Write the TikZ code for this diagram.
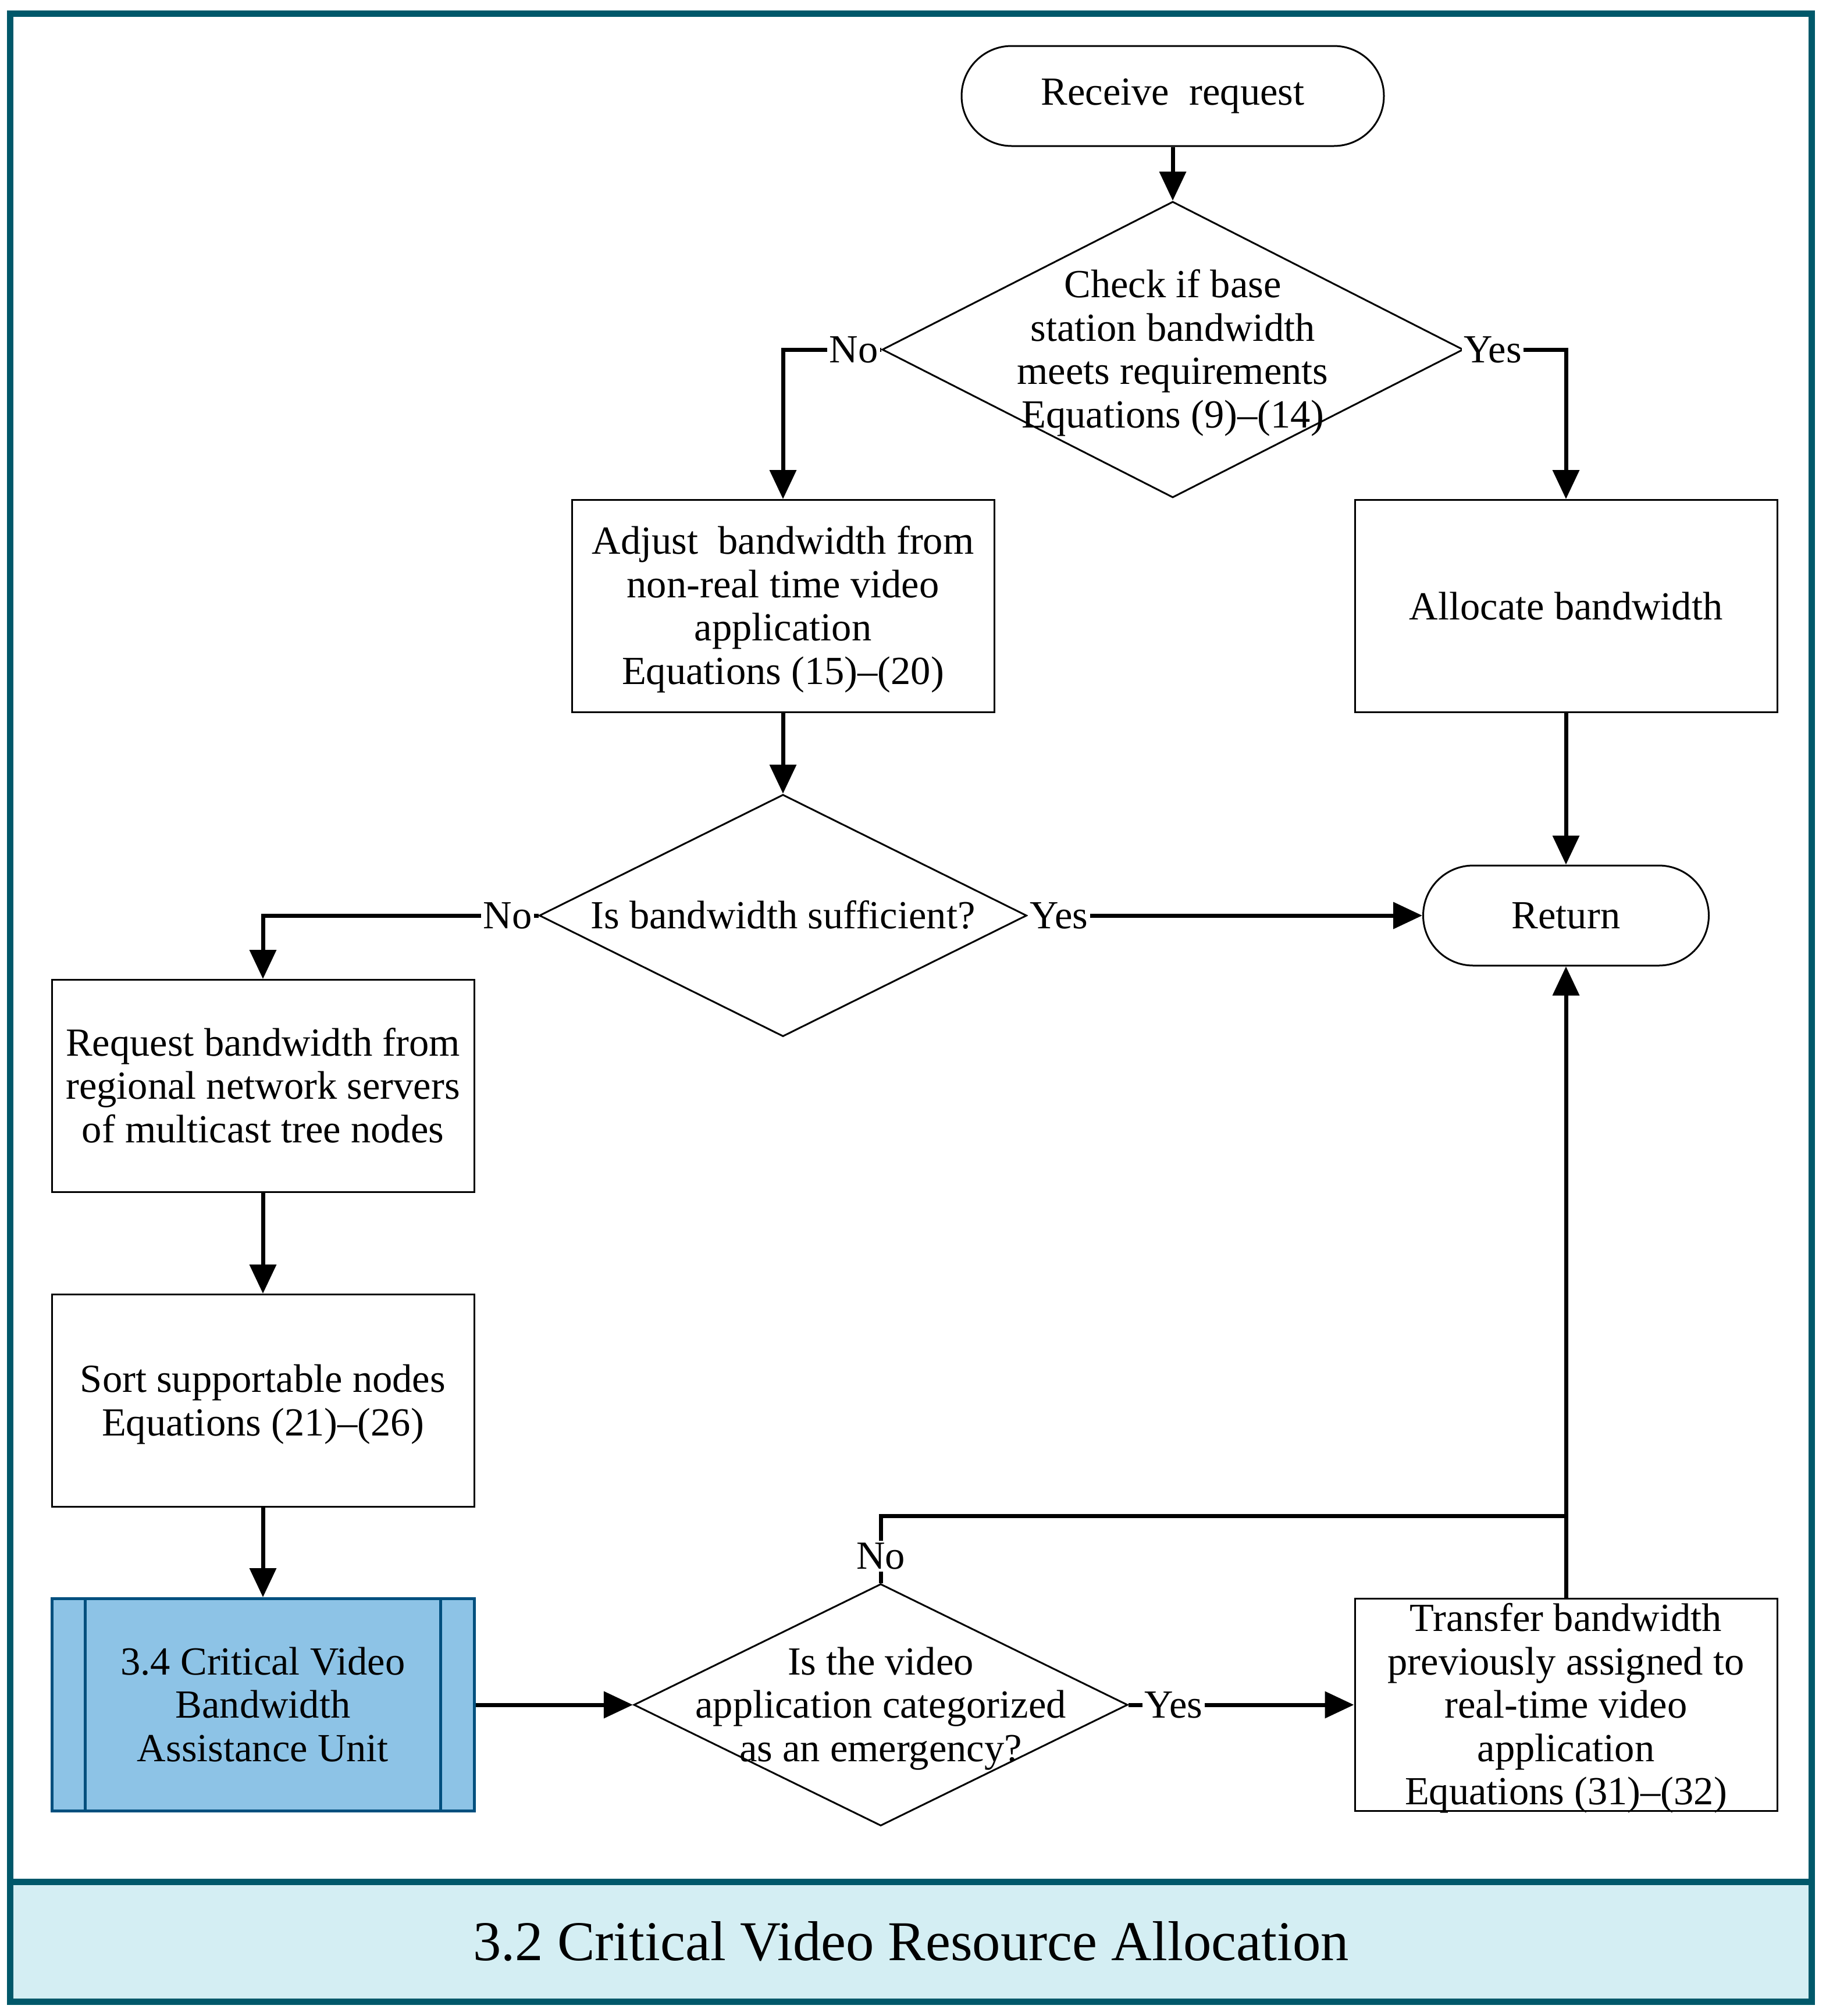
\documentclass[tikz,border=0pt]{standalone}
\usepackage{fontspec}
\setmainfont{Liberation Serif}
\usepackage{xcolor}
\definecolor{frameTeal}{HTML}{00586A}
\definecolor{bandCyan}{HTML}{D4EEF3}
\definecolor{unitBlue}{HTML}{8DC3E6}
\definecolor{unitNavy}{HTML}{004F7E}
\usepackage{tikz}
\usetikzlibrary{arrows.meta, positioning, calc, shapes.geometric}
\newcommand{\TexteCentre}[1]{\smash{\makebox[0pt]{\raisebox{-.38em}{%
  \begin{tabular}{@{}c@{}}#1\end{tabular}}}}}
\tikzset{
  %% ── Boxes ────────────────────────────────────────────────────────────
  %% Every box is sized by its minimum dimensions, the text never pushes.
  procBox/.style     = {draw=black, line width=0.03cm, minimum width=7.26cm,
                        minimum height=3.65cm, inner sep=0pt, align=center},
  unitBox/.style     = {procBox, fill=unitBlue, draw=unitNavy, line width=0.05cm},
  termBox/.style     = {draw=black, line width=0.03cm, rounded corners=0.86cm,
                        minimum height=1.72cm, inner sep=0pt},
  decisionBox/.style = {diamond, draw=black, line width=0.03cm, inner sep=0pt},
  %%
  %% ── Arrows ───────────────────────────────────────────────────────────
  flowArrow/.style   = {-{Triangle[length=0.5cm, width=0.45cm]}, draw=black,
                        line width=0.07cm},
  flowLine/.style    = {draw=black, line width=0.07cm},
  %%
  %% ── Text ─────────────────────────────────────────────────────────────
  branchLabel/.style = {fill=white, inner sep=1pt},
  titleBand/.style   = {draw=frameTeal, fill=bandCyan, line width=0.11cm,
                        minimum width=30.96cm, minimum height=2.06cm,
                        font=\fontsize{27.5pt}{30pt}\selectfont},
}

\begin{document}
\begin{tikzpicture}[x=1cm, y=1cm, font=\fontsize{19.5pt}{21.2pt}\selectfont]
\useasboundingbox (0,0) rectangle (31.39,-34.66);

\node[titleBand] (band) at (15.66,-33.38) {3.2 Critical Video Resource Allocation};
\draw[draw=frameTeal, line width=0.11cm] (0.18,-0.23) rectangle (31.14,-34.41);

\node[termBox, minimum width=7.26cm] (recv) at (20.16,-1.65) {Receive\ \ request};
\node[decisionBox, minimum width=9.99cm, minimum height=5.09cm] (chk) at (20.16,-6.01)
     {\TexteCentre{Check if base\\station bandwidth\\meets requirements\\Equations (9)–(14)}};
\node[procBox] (adj) at (13.46,-10.42)
     {\TexteCentre{Adjust\ \ bandwidth from\\non-real time video\\application\\Equations (15)–(20)}};
\node[procBox] (alloc) at (26.92,-10.42) {Allocate bandwidth};
\node[decisionBox, minimum width=8.38cm, minimum height=4.16cm] (suff) at (13.46,-15.74)
     {\TexteCentre{Is bandwidth sufficient?}};
\node[termBox, minimum width=4.91cm] (ret) at (26.92,-15.74) {Return};
\node[procBox] (req) at (4.52,-18.67)
     {\TexteCentre{Request bandwidth from\\regional network servers\\of multicast tree nodes}};
\node[procBox] (sort) at (4.52,-24.08)
     {\TexteCentre{Sort supportable nodes\\Equations (21)–(26)}};
\node[unitBox] (unit) at (4.52,-29.31)
     {\TexteCentre{3.4 Critical Video\\Bandwidth\\Assistance Unit}};
\node[decisionBox, minimum width=8.49cm, minimum height=4.16cm] (emerg) at (15.14,-29.31)
     {\TexteCentre{Is the video\\application categorized\\as an emergency?}};
\node[procBox] (xfer) at (26.92,-29.31)
     {\TexteCentre{Transfer bandwidth\\previously assigned to\\real-time video\\application\\Equations (31)–(32)}};
\coordinate (jct) at (26.92,-26.06);

%% side bars of the sub-process box
\draw[draw=unitNavy, line width=0.05cm]
     ([xshift=0.6cm]unit.north west) -- ([xshift=0.6cm]unit.south west)
     ([xshift=-0.6cm]unit.north east) -- ([xshift=-0.6cm]unit.south east);

\draw[flowArrow] (recv) -- (chk);
\draw[flowArrow] (chk.west) -| node[branchLabel, pos=0.14] {No} (adj.north);
\draw[flowArrow] (chk.east) -| node[branchLabel, pos=0.14] {Yes} (alloc.north);
\draw[flowArrow] (adj) -- (suff);
\draw[flowArrow] (alloc) -- (ret);
\draw[flowArrow] (suff.west) -| node[branchLabel, pos=0.056] {No} (req.north);
\draw[flowArrow] (suff.east) -- node[branchLabel, pos=0.08] {Yes} (ret.west);
\draw[flowArrow] (req) -- (sort);
\draw[flowArrow] (sort) -- (unit);
\draw[flowArrow] (unit) -- (emerg);
\draw[flowArrow] (emerg.east) -- node[branchLabel, pos=0.2] {Yes} (xfer.west);
\draw[flowArrow] (xfer.north) -- (ret.south);
\draw[flowLine] (emerg.north) |- node[branchLabel, pos=0.2] {No} (jct);

\end{tikzpicture}
\end{document}
